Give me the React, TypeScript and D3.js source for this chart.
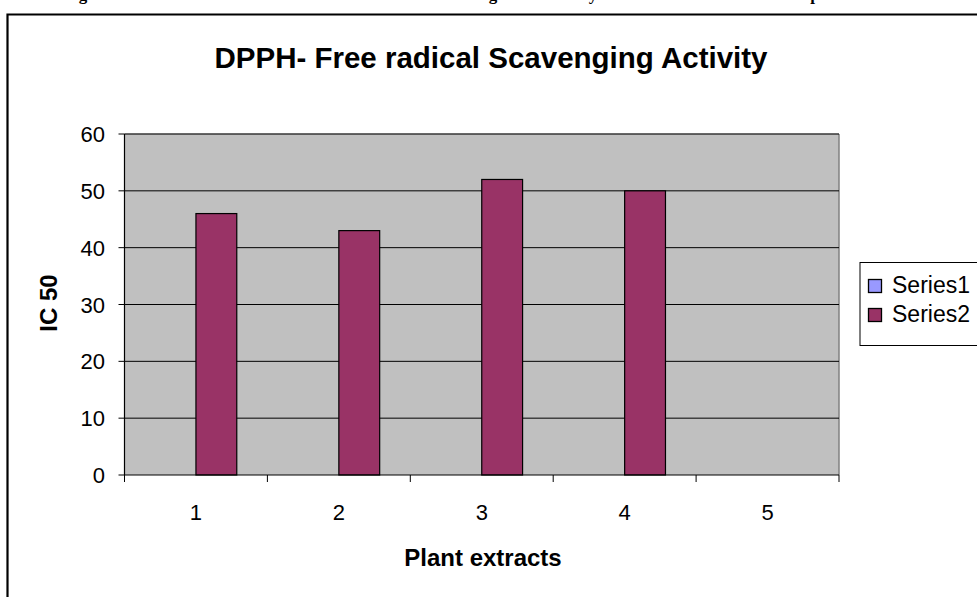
import React from 'react';
import * as d3 from 'd3';

const categories = ['1', '2', '3', '4', '5'];
const seriesNames = ['Series1', 'Series2'];
const series1: (number | null)[] = [null, null, null, null, null];
const series2: (number | null)[] = [46, 43, 52, 50, null];
const yTicks = [0, 10, 20, 30, 40, 50, 60];
const seriesColors = ['#9999FF', '#993366'];

const W = 977;
const H = 597;
const plot = { left: 124.5, right: 839, top: 134, bottom: 475 };
const font = 'Arial, "Liberation Sans", sans-serif';

const App = () => {
    const x = d3.scaleBand().domain(categories).range([plot.left, plot.right]).padding(0);
    const xs = d3.scaleBand().domain(seriesNames).range([0, x.bandwidth()]).paddingInner(0).paddingOuter(0.75);
    const y = d3.scaleLinear().domain([0, 60]).range([plot.bottom, plot.top]);
    const allSeries = [series1, series2];
    const bandEdges = categories.map(c => x(c) as number).concat([plot.right]);

    return (
        <svg width={W} height={H} style={{ position: 'absolute', left: 0, top: 0, background: '#fff' }}>
            {/* tail of the figure caption cut off above the frame */}
            <g fontFamily='"Liberation Serif", "Times New Roman", serif' fontWeight="bold" fontSize={17} textAnchor="middle">
                <text x={83} y={0}>g</text>
                <text x={493} y={0}>g</text>
                <text x={593} y={0}>y</text>
                <text x={815} y={0}>p</text>
            </g>
            {/* chart frame */}
            <path d={`M7.5,${H + 2} V14.5 H${W + 2}`} fill="none" stroke="#000" strokeWidth={2.2} />

            <text x={491} y={68} textAnchor="middle" fontFamily={font} fontWeight="bold" fontSize={29.5}>
                DPPH- Free radical Scavenging Activity
            </text>

            {/* plot area */}
            <rect x={plot.left} y={plot.top} width={plot.right - plot.left} height={plot.bottom - plot.top} fill="#C0C0C0" />
            <line x1={plot.left} x2={plot.right} y1={plot.top} y2={plot.top} stroke="#A0A0A0" strokeWidth={1} />
            <line x1={plot.right} x2={plot.right} y1={plot.top} y2={plot.bottom} stroke="#808080" strokeWidth={1.5} />
            {yTicks.filter(t => t > 0).map(t => (
                <line key={t} x1={plot.left} x2={plot.right} y1={y(t)} y2={y(t)} stroke="#000" strokeWidth={1} />
            ))}

            {/* bars */}
            {allSeries.map((vals, si) =>
                vals.map((v, i) => v == null ? null : (
                    <rect key={`${si}-${i}`}
                        x={(x(categories[i]) as number) + (xs(seriesNames[si]) as number)}
                        y={y(v)}
                        width={xs.bandwidth()}
                        height={y(0) - y(v)}
                        fill={seriesColors[si]} stroke="#000" strokeWidth={1.2} />
                ))
            )}

            {/* axes */}
            <line x1={plot.left} x2={plot.left} y1={plot.top} y2={plot.bottom} stroke="#000" strokeWidth={1.2} />
            <line x1={plot.left} x2={plot.right} y1={plot.bottom} y2={plot.bottom} stroke="#000" strokeWidth={1.2} />
            {yTicks.map(t => (
                <g key={t}>
                    <line x1={plot.left - 6} x2={plot.left} y1={y(t)} y2={y(t)} stroke="#000" />
                    <text x={105} y={y(t) + 8} textAnchor="end" fontFamily={font} fontSize={22}>{t}</text>
                </g>
            ))}
            {bandEdges.map((e, i) => (
                <line key={i} x1={e} x2={e} y1={plot.bottom} y2={plot.bottom + 7} stroke="#000" />
            ))}
            {categories.map(c => (
                <text key={c} x={(x(c) as number) + x.bandwidth() / 2} y={520} textAnchor="middle" fontFamily={font} fontSize={22}>{c}</text>
            ))}

            <text x={483} y={566} textAnchor="middle" fontFamily={font} fontWeight="bold" fontSize={24}>Plant extracts</text>
            <text transform="translate(57,303) rotate(-90)" textAnchor="middle" fontFamily={font} fontWeight="bold" fontSize={24}>IC 50</text>

            {/* legend */}
            <rect x={860} y={262.5} width={130} height={83} fill="#fff" stroke="#000" strokeWidth={1} />
            {seriesNames.map((s, i) => (
                <g key={s}>
                    <rect x={868.5} y={279.5 + i * 29} width={13} height={13} fill={seriesColors[i]} stroke="#000" strokeWidth={1.3} />
                    <text x={892} y={293 + i * 29} fontFamily={font} fontSize={23}>{s}</text>
                </g>
            ))}
        </svg>
    );
};

export default App;
